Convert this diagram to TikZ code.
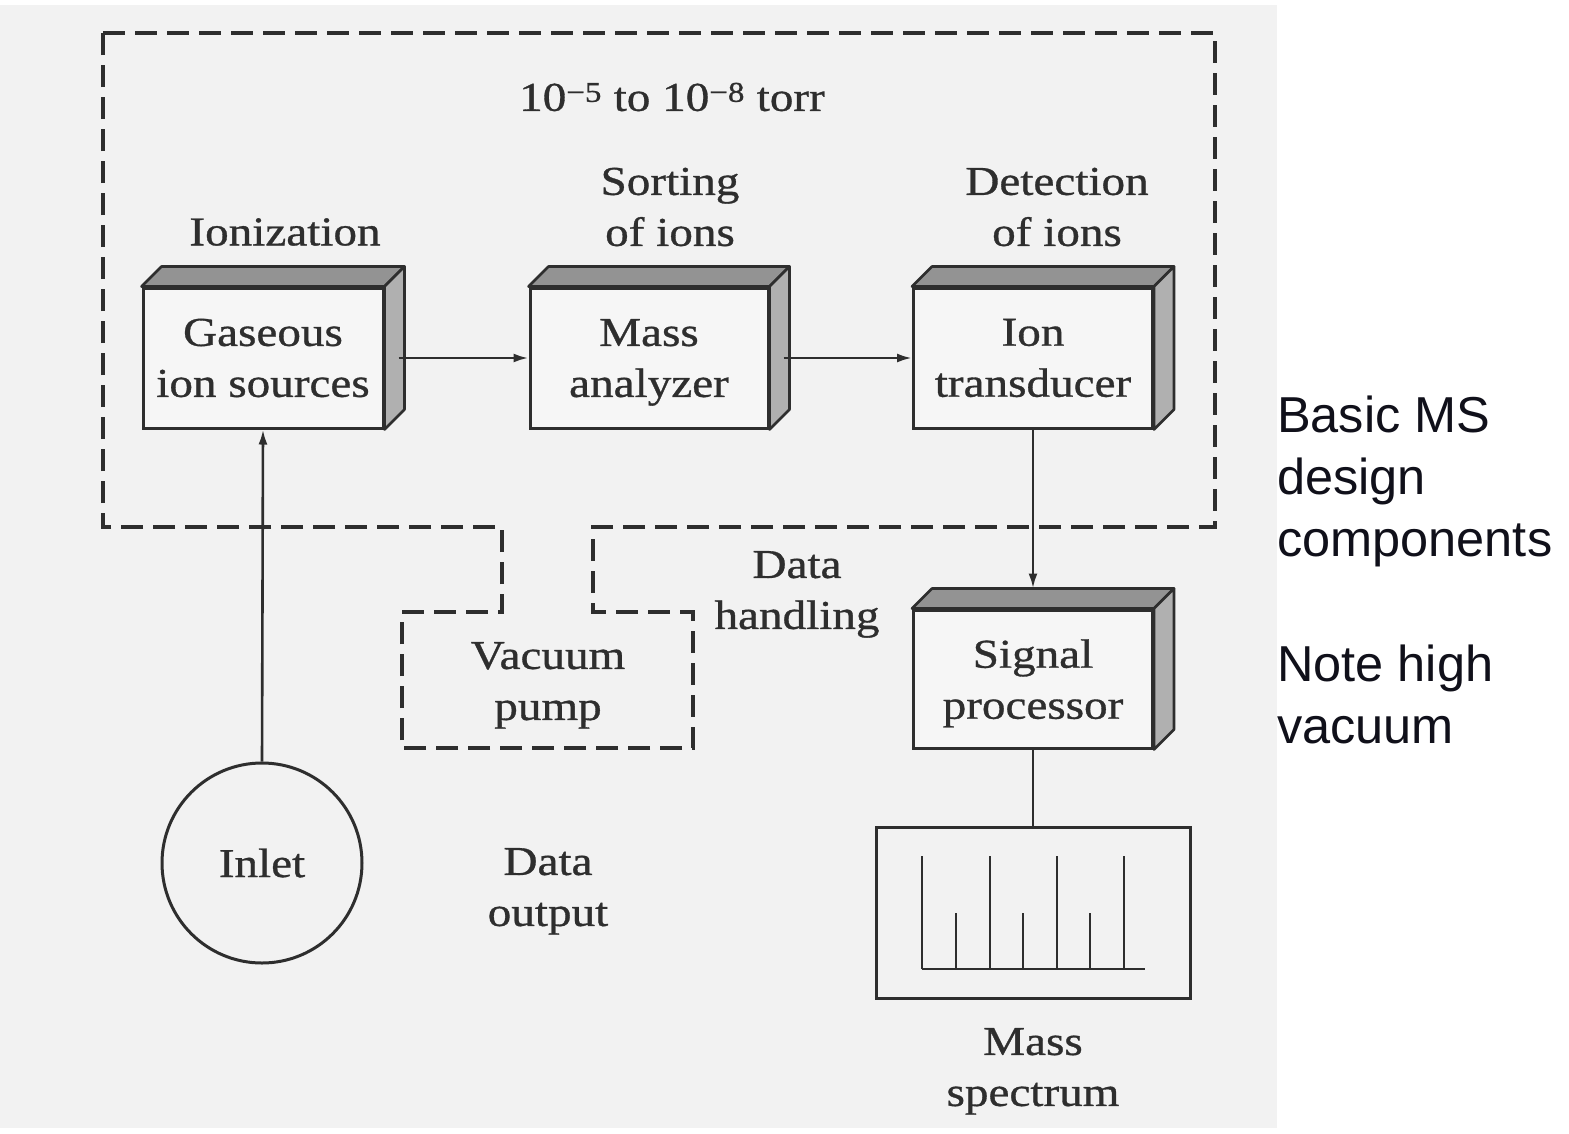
\documentclass[tikz,border=0pt]{standalone}
\usepackage{fontspec}
\setmainfont{Liberation Serif}[FakeStretch=1.15, FakeBold=0.8]
\newfontfamily\notefont{Liberation Sans}
\usetikzlibrary{arrows.meta}
\definecolor{paper}{HTML}{F2F2F2}
\definecolor{ink}{HTML}{2E2E2E}
\definecolor{frontc}{HTML}{F6F6F6}
\definecolor{topc}{HTML}{939393}
\definecolor{sidec}{HTML}{B0B0B0}
\definecolor{notec}{HTML}{10101A}
\tikzset{
  lbl/.style={text=ink, align=center, inner sep=0pt,
    font=\fontsize{41}{51}\selectfont},
  unit/.style={lbl, draw=ink, fill=frontc, line width=3pt,
    minimum width=240pt, minimum height=140pt},
  topface/.style={draw=ink, fill=topc, line width=2.6pt, line join=round},
  sideface/.style={draw=ink, fill=sidec, line width=2.6pt, line join=round},
  conn/.style={draw=ink, line width=2.6pt,
    -{Latex[length=15pt,width=9pt]}},
  wire/.style={draw=ink, line width=2.6pt},
  vac/.style={draw=ink, line width=3.2pt, dash pattern=on 22pt off 10pt},
  note/.style={text=notec, align=left, inner sep=0pt,
    font=\notefont\fontsize{50.5}{62}\selectfont},
}
\begin{document}
\begin{tikzpicture}[x=1pt, y=-1pt]
  \useasboundingbox (0,0) rectangle (1569,1133);
  % scanned page area
  \fill[paper] (0,5) rectangle (1277,1128);

  % vacuum enclosure with the pump bay underneath
  \draw[vac] (103,33) -- (1215,33) -- (1215,527) -- (593,527) -- (593,612)
    -- (693,612) -- (693,748) -- (402,748) -- (402,612) -- (502,612)
    -- (502,527) -- (103,527) -- cycle;

  % instrument units
  \node[unit] (src) at (263,358) {Gaseous\\ion sources};
  \node[unit, minimum width=238pt] (ana) at (649,358) {Mass\\\smash{analyzer}};
  \node[unit, minimum width=239pt] (det) at (1033,358) {Ion\\transducer};
  \node[unit, minimum width=239pt, minimum height=138pt] (sig) at (1033,679) {Signal\\\smash{processor}};

  % depth faces of the units
  \foreach \n in {src,ana,det,sig} {
    \filldraw[topface] (\n.north west) -- ++(20,-20)
      -- ([shift={(20,-20)}]\n.north east) -- (\n.north east) -- cycle;
    \filldraw[sideface] (\n.north east) -- ++(20,-20)
      -- ([shift={(20,-20)}]\n.south east) -- (\n.south east) -- cycle;
  }

  % inlet
  \node[lbl, draw=ink, line width=3pt, circle, minimum size=200pt] (inlet) at (262,863) {Inlet};

  % mass spectrum display
  \node[draw=ink, line width=3pt, minimum width=314pt, minimum height=171pt,
    inner sep=0pt] (spec) at (1033,912.5) {};
  \draw[wire] (922,969) -- (1145,969);
  \foreach \px in {922,990,1057,1124} \draw[wire] (\px,969) -- (\px,856);
  \foreach \px in {956,1023,1090} \draw[wire] (\px,969) -- (\px,913);

  % signal path
  \draw[conn] ([xshift=14pt]src.east) -- (ana.west);
  \draw[conn] ([xshift=14pt]ana.east) -- (det.west);
  \draw[conn] (inlet.north) -- (src.south);
  \coordinate (sigtop) at ([yshift=20pt]sig.north);
  \draw[conn] (det.south) -- (sigtop);
  \draw[wire] (sig.south) -- (spec.north);

  % stage labels
  \node[lbl] (press) at (672,97) {10\textsuperscript{−5} to 10\textsuperscript{−8} torr};
  \node[lbl] (ioniz) at (285,232) {Ionization};
  \node[lbl] (sort) at (670,207) {Sorting\\of ions};
  \node[lbl] (detect) at (1057,207) {Detection\\of ions};
  \node[lbl] (handle) at (797,590) {Data\\\smash{handling}};
  \node[lbl] (pump) at (548,681) {Vacuum\\\smash{pump}};
  \node[lbl] (dout) at (548,887) {Data\\\smash{output}};
  \node[lbl] (mspec) at (1033,1067) {Mass\\\smash{spectrum}};

  % notes
  \node[note, anchor=north west] (basic) at (1277,396) {Basic MS\\design\\components};
  \node[note, anchor=north west] (vnote) at (1277,645) {Note high\\vacuum};
\end{tikzpicture}
\end{document}
